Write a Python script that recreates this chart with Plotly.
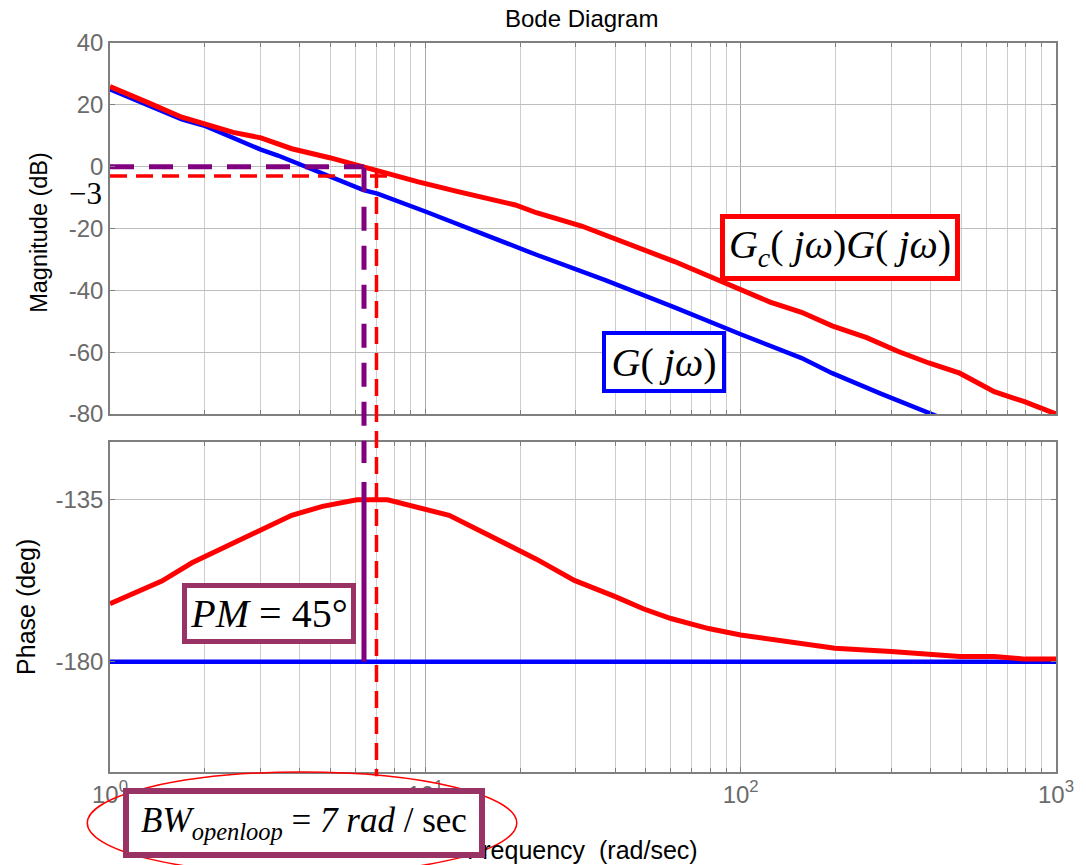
import plotly.graph_objects as go

# Compensated loop Gc(jw)G(jw): frequency (rad/sec) and magnitude (dB)
w_comp_mag = [1.0, 1.16, 1.32, 1.69, 2.01, 2.46, 3.01, 3.77, 4.97, 6.07, 7.05, 9.5,
              12.6, 19.3, 22.5, 31.3, 61.7, 87.7, 124, 156, 195, 251, 315, 395,
              495, 637, 798, 1000]
mag_comp = [25.9, 22.9, 20.7, 16.0, 13.6, 11.1, 9.3, 5.8, 2.9, 0.5, -1.6, -4.9,
            -8.0, -12.4, -14.9, -19.2, -30.7, -37.3, -43.8, -47.1, -51.5, -55.3, -59.7, -63.5,
            -66.8, -72.8, -76.1, -80.0]

# Uncompensated plant G(jw): magnitude (dB)
w_plant_mag = [1.0, 1.69, 2.01, 3.01, 3.41, 6.37, 7.05, 10, 22.5, 37.2, 61.7, 87.7,
               100, 156, 195, 278, 426]
mag_plant = [25.0, 15.3, 13.1, 5.5, 3.6, -7.6, -8.7, -14.5, -28.5, -36.7, -45.5, -52.0,
             -54.2, -61.9, -66.8, -73.4, -81.0]

# Phase (deg)
w_comp_ph = [1.0, 1.46, 1.82, 3.01, 3.77, 4.72, 6.07, 7.59, 9.75, 11.9, 22.5, 29.7,
             40.2, 49.1, 60.1, 79.1, 100, 199, 300, 495, 637, 798, 1000]
ph_comp = [-163.9, -157.6, -152.5, -143.3, -139.3, -136.8, -135.0, -135.0, -137.5, -139.3,
           -151.5, -157.4, -162.0, -165.3, -168.0, -170.8, -172.6, -176.3, -177.2, -178.6,
           -178.6, -179.3, -179.3]
w_plant_ph = [1.0, 1000]
ph_plant = [-180, -180]

# Marked quantities
W_CROSS = 6.39      # gain crossover (rad/sec)
W_BW = 7.0          # open-loop bandwidth (rad/sec)
LEVEL_0DB = 0
LEVEL_3DB = -3
PM_TOP = -130
PHASE_REF = -180

mag_ticks = [40, 20, 0, -20, -40, -60, -80]
phase_ticks = [-135, -180]
freq_ticks = [1, 10, 100, 1000]
freq_tick_text = ["10<sup>0</sup>", "10<sup>1</sup>", "10<sup>2</sup>", "10<sup>3</sup>"]
minor_freqs = [m * 10 ** d for d in range(3) for m in range(2, 10)]

RED = "#ff0000"
BLUE = "#0000ff"
PURPLE = "#800080"
MAROON = "#993366"
GRID = "#bdbdbd"
AXIS = "#7f7f7f"
TICKTXT = "#6b6b6b"
SANS = "Liberation Sans, Arial, sans-serif"
SERIF = "Liberation Serif, Times New Roman, serif"

fig = go.Figure()

# magnitude panel
fig.add_trace(go.Scatter(x=w_plant_mag, y=mag_plant, mode="lines",
                         line=dict(color=BLUE, width=4.5), xaxis="x", yaxis="y"))
fig.add_trace(go.Scatter(x=w_comp_mag, y=mag_comp, mode="lines",
                         line=dict(color=RED, width=5), xaxis="x", yaxis="y"))
fig.add_trace(go.Scatter(x=[1, W_BW * 1.08], y=[LEVEL_3DB, LEVEL_3DB], mode="lines",
                         line=dict(color=RED, width=3.5, dash="17px,9px"), xaxis="x", yaxis="y"))
fig.add_trace(go.Scatter(x=[1, W_CROSS], y=[LEVEL_0DB, LEVEL_0DB], mode="lines",
                         line=dict(color=PURPLE, width=5, dash="24px,15px"), xaxis="x", yaxis="y"))

# phase panel
fig.add_trace(go.Scatter(x=w_plant_ph, y=ph_plant, mode="lines",
                         line=dict(color=BLUE, width=4.5), xaxis="x2", yaxis="y2"))
fig.add_trace(go.Scatter(x=w_comp_ph, y=ph_comp, mode="lines",
                         line=dict(color=RED, width=5), xaxis="x2", yaxis="y2"))
fig.add_trace(go.Scatter(x=[W_CROSS, W_CROSS], y=[PM_TOP, PHASE_REF], mode="lines",
                         line=dict(color=PURPLE, width=5), xaxis="x2", yaxis="y2"))

MAG_DOM = [0.4911, 1.0]
PH_DOM = [0.0, 0.4527]


def x_axis(anchor, show_labels):
    return dict(
        type="log", range=[0, 3], domain=[0, 1], anchor=anchor,
        tickvals=freq_ticks, ticktext=freq_tick_text, showticklabels=show_labels,
        tickfont=dict(family=SANS, size=24, color=TICKTXT),
        ticks="inside", ticklen=5, tickcolor=AXIS,
        showgrid=True, gridcolor="#a8a8a8", gridwidth=1,
        minor=dict(tickvals=minor_freqs, showgrid=True, gridcolor="#cdcdcd",
                   gridwidth=1, ticks="inside", ticklen=4, tickcolor=AXIS),
        showline=True, linecolor=AXIS, linewidth=1.5, mirror="ticks", zeroline=False,
    )


def y_axis(anchor, dom, rng, ticks):
    return dict(
        domain=dom, range=rng, anchor=anchor,
        tickvals=ticks, ticktext=[str(t) for t in ticks],
        tickfont=dict(family=SANS, size=24, color=TICKTXT),
        ticks="inside", ticklen=5, tickcolor=AXIS,
        showgrid=True, gridcolor=GRID, gridwidth=1,
        showline=True, linecolor=AXIS, linewidth=1.5, mirror="ticks", zeroline=False,
    )


fig.update_layout(
    width=1086, height=865,
    margin=dict(l=110, r=20, t=43, b=93),
    plot_bgcolor="white", paper_bgcolor="white",
    showlegend=False,
    xaxis=x_axis("y", False),
    yaxis=y_axis("x", MAG_DOM, [-80, 40], mag_ticks),
    xaxis2=x_axis("y2", True),
    yaxis2=y_axis("x2", PH_DOM, [-210.7, -118.9], phase_ticks),
)

# vertical markers crossing both panels
fig.add_shape(type="line", xref="x", yref="paper", x0=W_BW, x1=W_BW, y0=0.8244, y1=-0.006,
              line=dict(color=RED, width=3.5, dash="17px,9px"), layer="above")
fig.add_shape(type="line", xref="x", yref="paper", x0=W_CROSS, x1=W_CROSS, y0=0.829, y1=0.424,
              line=dict(color=PURPLE, width=5, dash="24px,15px"), layer="above")

# ellipse round the bandwidth note
fig.add_shape(type="circle", xref="paper", yref="paper", x0=-0.024, x1=0.43, y0=-0.14, y1=0.0,
              line=dict(color=RED, width=1.5), layer="above")

annotations = [
    dict(text="Bode Diagram", x=0.498, y=1.034, font=dict(family=SANS, size=24, color="black")),
    dict(text="Magnitude (dB)", x=-0.0753, y=0.7407, textangle=-90,
         font=dict(family=SANS, size=23.5, color="black")),
    dict(text="Phase (deg)", x=-0.0889, y=0.2263, textangle=-90,
         font=dict(family=SANS, size=25, color="black")),
    dict(text="Frequency  (rad/sec)", x=0.499, y=-0.107,
         font=dict(family=SANS, size=25, color="black")),
    dict(text="\u22123", x=-0.0262, y=0.7935, font=dict(family=SERIF, size=31, color="black")),
    dict(text="<i>G</i><sub><i>c</i></sub>( <i>j\u03c9</i>)<i>G</i>( <i>j\u03c9</i>)",
         x=0.772, y=0.7195, width=230, height=57, bordercolor=RED, borderwidth=5,
         borderpad=0, bgcolor="white", font=dict(family=SERIF, size=40, color="black")),
    dict(text="<i>G</i>( <i>j\u03c9</i>)",
         x=0.5857, y=0.5624, width=116, height=54, bordercolor=BLUE, borderwidth=4,
         borderpad=0, bgcolor="white", font=dict(family=SERIF, size=40, color="black")),
    dict(text="<i>PM</i> = 45\u00b0",
         x=0.1684, y=0.2174, width=164, height=51, bordercolor=MAROON, borderwidth=5,
         borderpad=0, bgcolor="white", font=dict(family=SERIF, size=40, color="black")),
    dict(text="<i>BW</i><sub><i>openloop</i></sub> = <i>7 rad</i> / sec",
         x=0.205, y=-0.07, width=350, height=58, bordercolor=MAROON, borderwidth=6,
         borderpad=0, bgcolor="white", font=dict(family=SERIF, size=35, color="black")),
]
for a in annotations:
    a.setdefault("xref", "paper")
    a.setdefault("yref", "paper")
    a.setdefault("showarrow", False)
    a.setdefault("xanchor", "center")
    a.setdefault("yanchor", "middle")
    fig.add_annotation(**a)

fig.write_html("out.html")
